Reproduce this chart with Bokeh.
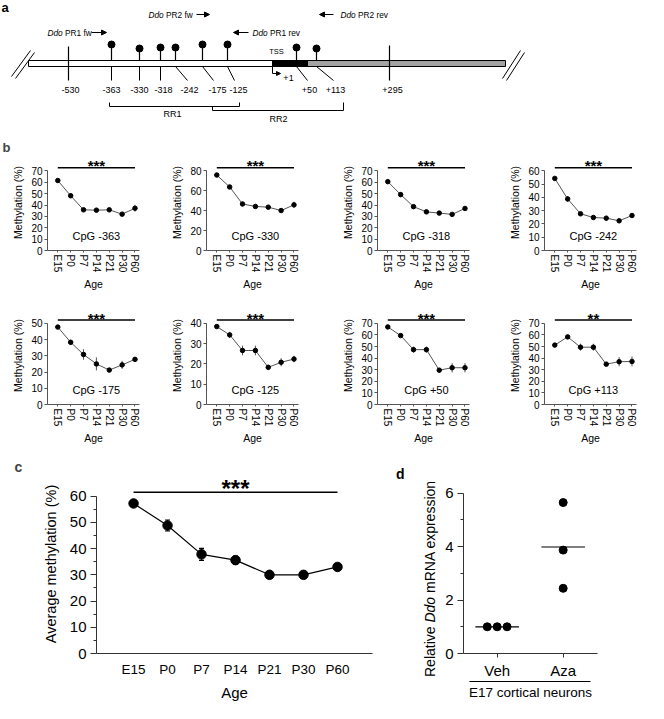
from bokeh.plotting import figure
from bokeh.layouts import column, row
from bokeh.models import (Range1d, FixedTicker, Arrow, NormalHead, TeeHead,
                          Whisker, ColumnDataSource, LinearAxis, Div)
from bokeh.core.properties import value
from bokeh.embed import file_html
from bokeh.resources import INLINE

FONT = "Liberation Sans"

# ------------------------------------------------------------------ data
ages = ["E15", "P0", "P7", "P14", "P21", "P30", "P60"]

cpg_labels = ["CpG -363", "CpG -330", "CpG -318", "CpG -242",
              "CpG -175", "CpG -125", "CpG +50", "CpG +113"]
cpg_means = [
    [61.6, 48.2, 35.8, 35.5, 35.8, 32.0, 37.2],
    [75.9, 63.9, 46.8, 44.3, 43.6, 40.2, 45.9],
    [60.6, 49.2, 38.6, 34.0, 32.9, 31.8, 37.0],
    [54.4, 38.9, 27.7, 24.9, 24.4, 22.4, 26.4],
    [47.7, 38.3, 30.8, 25.0, 21.2, 24.4, 27.8],
    [38.4, 34.3, 26.6, 26.6, 18.3, 20.8, 22.4],
    [66.9, 59.4, 47.3, 47.3, 29.6, 31.7, 31.7],
    [51.2, 58.3, 49.4, 49.4, 34.8, 36.9, 37.1],
]
cpg_errs = [
    [1.0, 2.0, 1.0, 1.0, 1.0, 1.0, 3.0],
    [1.0, 1.8, 1.0, 1.0, 1.0, 1.0, 3.0],
    [1.0, 2.2, 1.0, 1.0, 1.0, 1.0, 1.8],
    [1.0, 2.2, 1.0, 1.2, 1.0, 1.0, 1.2],
    [0.8, 1.7, 3.2, 4.0, 1.2, 2.5, 1.2],
    [0.7, 1.5, 2.4, 2.4, 1.3, 2.0, 1.6],
    [0.7, 0.8, 2.6, 2.6, 1.8, 4.0, 4.0],
    [1.0, 1.0, 3.0, 3.0, 1.6, 4.0, 4.2],
]
cpg_ymax = [70, 80, 70, 60, 50, 40, 70, 70]
cpg_ystep = [10, 20, 10, 10, 10, 10, 10, 10]
cpg_sig = ["***", "***", "***", "***", "***", "***", "***", "**"]

avg_means = [57.2, 48.8, 37.8, 35.6, 30.0, 30.0, 33.0]
avg_errs = [0.5, 2.1, 2.3, 1.5, 1.3, 0.6, 1.2]

d_groups = ["Veh", "Aza"]
veh_vals = [1.0, 1.0, 1.0]
aza_vals = [5.65, 3.87, 2.44]
veh_offsets = [-0.15, 0.0, 0.15]
aza_offsets = [0.0, 0.0, 0.0]

# schematic of the Ddo promoter (diagram units)
gene_seg_left = [28, 272, 307]
gene_seg_right = [272, 307, 505]
gene_seg_fill = ["white", "black", "#a3a3a3"]
site_labels = ["-530", "-363", "-330", "-318", "-242", "-175", "-125", "+50", "+113", "+295"]
site_is_cpg = [False, True, True, True, True, True, True, True, True, False]
site_x = [68, 111, 139, 160, 175, 202, 227, 296, 316, 389]
site_end_x = [68, 111, 139, 160, 187, 213, 234, 307, 333, 389]
site_label_x = [70, 111, 139, 163, 189, 217, 238, 309, 335, 392]
site_head_y = [46, 44, 48, 47, 47, 44, 44, 47, 48, 45]
primer_names = ["PR1 fw", "PR2 fw", "PR1 rev", "PR2 rev"]
primer_text_x = [47, 148, 252, 340]
primer_y = [32, 14, 32, 14]
primer_arrow_from = [91, 196, 248, 333]
primer_arrow_to = [106, 209, 233, 319]
rr_names = ["RR1", "RR2"]
rr_start = [109, 212]
rr_end = [239, 343]
rr_label_x = [172, 278]

# ------------------------------------------------------------------ helpers
def base_fig(**kw):
    return figure(output_backend="svg", toolbar_location=None,
                  outline_line_color=None, **kw)


def style_axis(ax, tick_size, label_size, color="#333333"):
    ax.axis_label_text_font = FONT
    ax.axis_label_text_font_style = "normal"
    ax.axis_label_text_font_size = label_size
    ax.axis_label_text_color = "black"
    ax.major_label_text_font = FONT
    ax.major_label_text_font_size = tick_size
    ax.major_label_text_color = "black"
    ax.axis_line_color = color
    ax.major_tick_line_color = color
    ax.minor_tick_line_color = color
    ax.major_tick_in = 0
    ax.minor_tick_in = 0


def letter_title(p, letter, offset, size="13px"):
    p.title.text = letter
    p.title.align = "left"
    p.title.offset = offset
    p.title.standoff = 0
    p.title.text_font = FONT
    p.title.text_font_style = "bold"
    p.title.text_font_size = size


# ------------------------------------------------------------------ panel a
pa = base_fig(width=648, height=137, x_range=Range1d(0, 648), y_range=Range1d(137, 0),
              x_axis_location=None, y_axis_location=None, min_border=0)
pa.grid.visible = False

pa.text(x=[1], y=[7], text=["a"], text_font=value(FONT), text_font_style="bold",
        text_font_size="13px", text_align="left", text_baseline="middle")

# gene bar
pa.quad(left=gene_seg_left, right=gene_seg_right, top=60, bottom=66,
        fill_color=gene_seg_fill, line_color="black", line_width=1)

cx = [x for x, c in zip(site_x, site_is_cpg) if c]
cy = [y for y, c in zip(site_head_y, site_is_cpg) if c]
nx = [x for x, c in zip(site_x, site_is_cpg) if not c]
ny = [y for y, c in zip(site_head_y, site_is_cpg) if not c]
pa.segment(x0=cx, y0=cy, x1=cx, y1=[60] * len(cx), line_color="black", line_width=1.2)
pa.scatter(x=cx, y=cy, size=7, marker="circle", color="black")
pa.segment(x0=nx, y0=ny, x1=nx, y1=[80] * len(nx), line_color="black", line_width=1.2)
lx1 = [x for x, c in zip(site_end_x, site_is_cpg) if c]
pa.segment(x0=cx, y0=[66] * len(cx), x1=lx1, y1=[80] * len(cx), line_color="black", line_width=1)
pa.text(x=site_label_x, y=[89] * len(site_label_x), text=site_labels, text_font=value(FONT),
        text_font_size="9px", text_align="center", text_baseline="middle")

# TSS
pa.text(x=[276], y=[51], text=["TSS"], text_font=value(FONT), text_font_size="7.5px",
        text_align="center", text_baseline="middle")
pa.segment(x0=[272], y0=[66], x1=[272], y1=[73], line_color="black", line_width=1)
pa.add_layout(Arrow(end=NormalHead(size=4, fill_color="black", line_color="black"),
                    x_start=272, y_start=73, x_end=280, y_end=73, line_width=1))
pa.text(x=[288], y=[77], text=["+1"], text_font=value(FONT), text_font_size="9px",
        text_align="center", text_baseline="middle")

# primers
PF = 8.3
ddo_w = (0.722 + 0.556 + 0.556 + 0.278) * PF
pa.text(x=primer_text_x, y=primer_y, text=["Ddo"] * 4, text_font=value(FONT),
        text_font_style="italic", text_font_size=f"{PF}px", text_align="left",
        text_baseline="middle")
pa.text(x=[x + ddo_w for x in primer_text_x], y=primer_y, text=primer_names,
        text_font=value(FONT), text_font_size=f"{PF}px", text_align="left",
        text_baseline="middle")
for x0, x1, y in zip(primer_arrow_from, primer_arrow_to, primer_y):
    pa.add_layout(Arrow(end=NormalHead(size=5, fill_color="black", line_color="black"),
                        x_start=x0, y_start=y, x_end=x1, y_end=y, line_width=1.2))

# RR brackets
pa.multi_line(xs=[[s, s, e, e] for s, e in zip(rr_start, rr_end)],
              ys=[[102, 106, 106, 102], [106, 110, 110, 102]],
              line_color="black", line_width=1)
pa.text(x=rr_label_x, y=[113, 118], text=rr_names, text_font=value(FONT),
        text_font_size="9px", text_align="center", text_baseline="middle")

# break marks
pa.multi_line(xs=[[11, 30], [15, 34], [502, 520], [506, 524]],
              ys=[[76, 50], [78, 52], [78, 50], [80, 52]],
              line_color="black", line_width=1)

# ------------------------------------------------------------------ panel b
xi = list(range(len(ages)))
left_borders = [47, 44, 53, 58]
FW, FH, TOPPX = 92, 102, 17.5
small = []
for i in range(8):
    col = i % 4
    top_b = 15 if i < 4 else 13
    ymax = cpg_ymax[i]
    ppu = (FH - TOPPX) / ymax
    yend = FH / ppu
    lb = left_borders[col]
    p = base_fig(width=162, height=top_b + FH + 39, x_range=Range1d(-0.8, 6.35),
                 y_range=Range1d(0, yend),
                 min_border_left=lb, min_border_right=162 - lb - FW,
                 min_border_top=top_b, min_border_bottom=39)
    p.grid.visible = False
    m = cpg_means[i]
    e = cpg_errs[i]
    p.segment(x0=xi, y0=[a - b for a, b in zip(m, e)], x1=xi, y1=[a + b for a, b in zip(m, e)],
              line_color="#555555", line_width=1)
    p.line(xi, m, line_color="#555555", line_width=1)
    p.scatter(xi, m, size=4.5, marker="circle", color="black")
    sig_y = ymax + 3.5 / ppu
    p.segment(x0=[0], y0=[sig_y], x1=[len(ages) - 1], y1=[sig_y], line_color="black", line_width=1.4)
    p.text(x=[3], y=[sig_y + 2 / ppu], text=[cpg_sig[i]], text_font=value(FONT),
           text_font_style="bold", text_font_size="15px", text_align="center",
           text_baseline="alphabetic")
    p.text(x=[3], y=[0.18 * ymax], text=[cpg_labels[i]], text_font=value(FONT),
           text_font_size="11px", text_align="center", text_baseline="middle")

    ya = p.yaxis[0]
    ya.ticker = FixedTicker(ticks=list(range(0, ymax + 1, cpg_ystep[i])))
    ya.bounds = (0, ymax)
    ya.axis_label = "Methylation (%)"
    style_axis(ya, "10px", "10.5px", "#555555")
    ya.major_tick_out = 3
    ya.minor_tick_out = 0
    ya.major_label_standoff = 2
    ya.axis_label_standoff = 4

    xa = p.xaxis[0]
    xa.ticker = FixedTicker(ticks=xi)
    xa.major_label_overrides = {k: lab for k, lab in enumerate(ages)}
    xa.major_label_orientation = "vertical"
    xa.axis_label = "Age"
    style_axis(xa, "10px", "10.5px", "#555555")
    xa.major_tick_out = 2
    xa.minor_tick_out = 0
    xa.major_label_standoff = 2
    xa.axis_label_standoff = 3
    if i == 0:
        letter_title(p, "b", -45, "13px")
    small.append(p)

# ------------------------------------------------------------------ panel c
CD_H = 256
CD_TOP, CD_BOT = 27, 47
C_PPU = 182 / 68.25
pc = base_fig(width=376, height=CD_H, x_range=Range1d(-1.09, 7.03), y_range=Range1d(0, 68.25),
              min_border_left=96, min_border_right=4, min_border_top=CD_TOP,
              min_border_bottom=CD_BOT)
pc.grid.visible = False
letter_title(pc, "c", -82, "14px")
pc.line(xi, avg_means, line_color="black", line_width=1.2)
src_c = ColumnDataSource(dict(x=xi, lower=[a - b for a, b in zip(avg_means, avg_errs)],
                              upper=[a + b for a, b in zip(avg_means, avg_errs)]))
pc.add_layout(Whisker(base="x", lower="lower", upper="upper", source=src_c, line_color="black",
                      line_width=1.2,
                      upper_head=TeeHead(size=5, line_color="black", line_width=1.2),
                      lower_head=TeeHead(size=5, line_color="black", line_width=1.2)))
pc.scatter(xi, avg_means, size=9.5, marker="circle", color="black")
C_SIG = 61.5
pc.segment(x0=[0], y0=[C_SIG], x1=[len(ages) - 1], y1=[C_SIG], line_color="black", line_width=1.5)
pc.text(x=[3], y=[C_SIG + 3.5 / C_PPU], text=["***"], text_font=value(FONT), text_font_style="bold",
        text_font_size="24px", text_align="center", text_baseline="alphabetic")

ya = pc.yaxis[0]
ya.ticker = FixedTicker(ticks=list(range(0, 61, 10)), minor_ticks=list(range(5, 60, 10)))
ya.bounds = (0, 60)
ya.axis_label = "Average methylation (%)"
style_axis(ya, "15px", "14.5px")
ya.major_tick_out = 6
ya.minor_tick_out = 3
ya.major_label_standoff = 4
ya.axis_label_standoff = 8

xa = pc.xaxis[0]
xa.ticker = FixedTicker(ticks=xi)
xa.major_label_overrides = {k: lab for k, lab in enumerate(ages)}
xa.axis_label = "Age"
style_axis(xa, "13.5px", "15px")
xa.major_tick_out = 0
xa.minor_tick_out = 0
xa.major_label_standoff = 8
xa.axis_label_standoff = 4

# ------------------------------------------------------------------ panel d
DLW = 66
d_html = (
    f'<div style="position:relative;width:{DLW}px;height:{CD_H}px;'
    f'font-family:\'{FONT}\';color:black;">'
    '<div style="position:absolute;left:20px;top:{t1}px;font-size:14px;line-height:16px;'
    'font-weight:bold;">d</div>'
    '<div style="position:absolute;left:47px;top:{t2}px;transform-origin:0 0;'
    'transform:rotate(-90deg);white-space:nowrap;font-size:14px;line-height:14px;">'
    'Relative <i>Ddo</i> mRNA expression</div></div>'
).replace("{t1}", str(CD_TOP - 8)).replace("{t2}", str(CD_TOP + 203))
d_strip = Div(text=d_html, width=DLW, height=CD_H, margin=0)

PDW = 648 - 376 - DLW
pd_ = base_fig(width=PDW, height=CD_H, x_range=Range1d(-0.51, 1.52),
               y_range=Range1d(0, 6.70), min_border_left=19, min_border_right=PDW - 19 - 136,
               min_border_top=CD_TOP, min_border_bottom=CD_BOT)
pd_.grid.visible = False
gx = [0 + o for o in veh_offsets] + [1 + o for o in aza_offsets]
gy = veh_vals + aza_vals
means_d = [sum(veh_vals) / len(veh_vals), sum(aza_vals) / len(aza_vals)]
pd_.segment(x0=[g - 0.33 for g in range(2)], y0=means_d, x1=[g + 0.33 for g in range(2)],
            y1=means_d, line_color="black", line_width=1.2)
pd_.scatter(gx, gy, size=8, marker="circle", color="black")

ya = pd_.yaxis[0]
ya.ticker = FixedTicker(ticks=[0, 2, 4, 6], minor_ticks=[1, 3, 5])
ya.bounds = (0, 6)
style_axis(ya, "15px", "14px")
ya.major_tick_out = 6
ya.minor_tick_out = 3
ya.major_label_standoff = 4

xa = pd_.xaxis[0]
xa.ticker = FixedTicker(ticks=[0, 1])
xa.major_label_overrides = {k: lab for k, lab in enumerate(d_groups)}
style_axis(xa, "15px", "14px")
xa.major_tick_out = 4
xa.minor_tick_out = 0
xa.major_label_standoff = 4

xa2 = LinearAxis(ticker=FixedTicker(ticks=[]), bounds=(-0.42, 1.415),
                 axis_label="E17 cortical neurons")
style_axis(xa2, "1px", "13.5px", "black")
xa2.major_tick_out = 0
xa2.minor_tick_out = 0
xa2.major_label_standoff = 0
xa2.axis_label_standoff = 3
pd_.add_layout(xa2, "below")

# ------------------------------------------------------------------ layout
layout = column(pa, row(*small[:4]), row(*small[4:]), row(pc, d_strip, pd_))
open("out.html", "w").write(file_html(layout, INLINE))
